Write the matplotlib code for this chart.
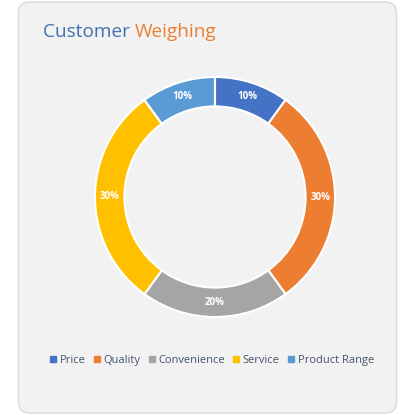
import numpy as np
import matplotlib.pyplot as plt
from matplotlib.patches import FancyBboxPatch
from matplotlib.lines import Line2D

plt.rcParams['font.family'] = ['Open Sans', 'DejaVu Sans']

# data
categories = ['Price', 'Quality', 'Convenience', 'Service', 'Product Range']
shares = [10, 30, 20, 30, 10]
colors = ['#4472C4', '#ED7D31', '#A5A5A5', '#FFC000', '#5B9BD5']

W = H = 415
fig = plt.figure(figsize=(W / 100, H / 100), dpi=100)
fig.patch.set_facecolor('white')

# card background
card = FancyBboxPatch((18.5 / W, 2 / H), 378 / W, 411 / H,
                      boxstyle='round,pad=0,rounding_size=0.026',
                      transform=fig.transFigure, facecolor='#F2F2F2',
                      edgecolor='#DADADA', linewidth=1.0, zorder=-5)
fig.patches.append(card)

# title, two colours
t1 = fig.text(43 / W, 1 - 37 / H, 'Customer ', color='#3E71AD', fontsize=13.7,
              va='baseline', ha='left')
fig.canvas.draw()
bb = t1.get_window_extent()
fig.text(bb.x1 / W, 1 - 37 / H, 'Weighing', color='#ED7D31', fontsize=13.7,
         va='baseline', ha='left')

# donut
cx, cy, R = 215, 197, 120
ax = fig.add_axes([(cx - R) / W, (H - cy - R) / H, 2 * R / W, 2 * R / H])
ax.set_zorder(2)
ax.set_facecolor('none')
ring = 0.245
wedges, _ = ax.pie(shares, colors=colors, startangle=90, counterclock=False,
                   radius=1.0, wedgeprops=dict(width=ring, edgecolor='white', linewidth=1.5))
for w, v in zip(wedges, shares):
    ang = np.deg2rad((w.theta1 + w.theta2) / 2)
    rr = 1.0 - ring / 2
    ax.text(rr * np.cos(ang), rr * np.sin(ang), f'{v}%', ha='center', va='center',
            color='white', fontsize=7, fontweight='bold')
ax.set_xlim(-1, 1)
ax.set_ylim(-1, 1)
ax.set_aspect('equal')
ax.axis('off')

# legend
handles = [Line2D([], [], marker='s', linestyle='none', markersize=4,
                  markerfacecolor=c, markeredgecolor=c) for c in colors]
fig.legend(handles, categories, loc='center', bbox_to_anchor=(212 / W, 1 - 360 / H),
           ncol=5, frameon=False, fontsize=8, labelcolor='#44546A',
           handlelength=0.6, handletextpad=0.3, columnspacing=0.7)

fig.savefig('out.png', dpi=100, facecolor='white')
